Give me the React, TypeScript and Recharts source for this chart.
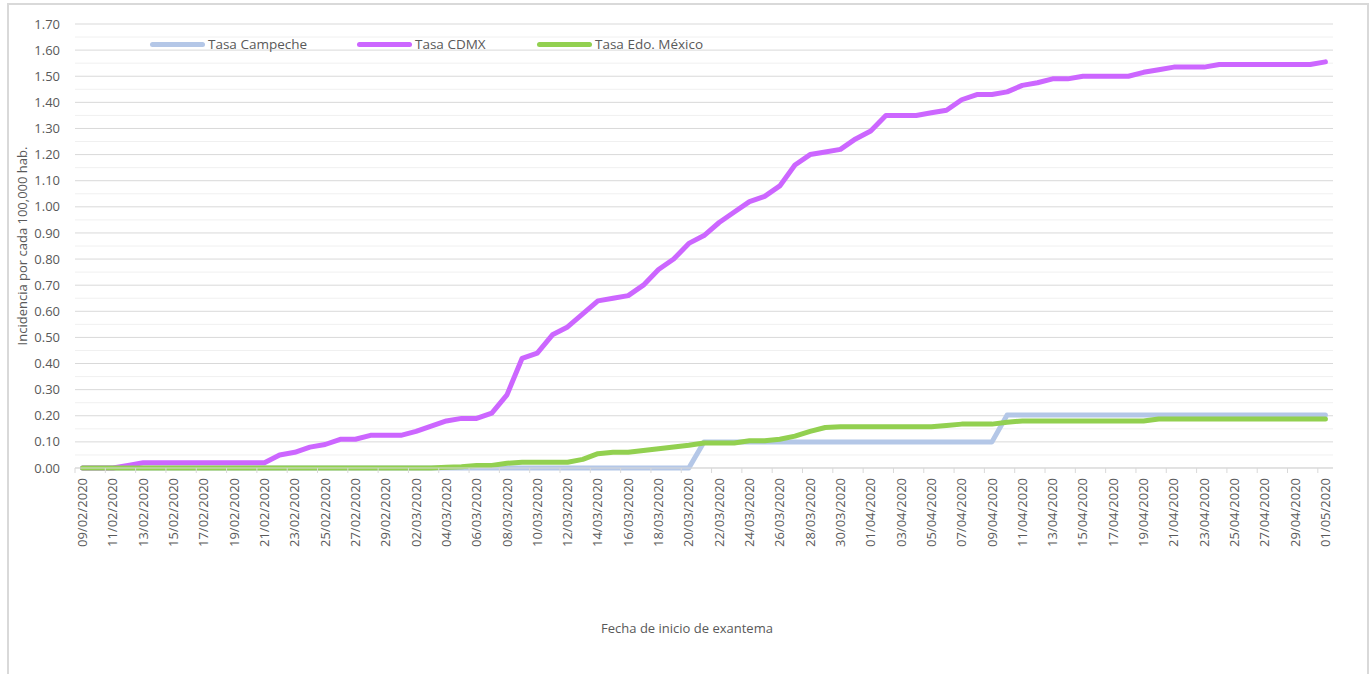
import React from "react";
import {
  CartesianGrid,
  Legend,
  Line,
  LineChart,
  ReferenceLine,
  XAxis,
  YAxis,
} from "recharts";

// daily dates, 09/02/2020 .. 01/05/2020
const dates = [
  "09/02/2020", "10/02/2020", "11/02/2020", "12/02/2020", "13/02/2020", "14/02/2020",
  "15/02/2020", "16/02/2020", "17/02/2020", "18/02/2020", "19/02/2020", "20/02/2020",
  "21/02/2020", "22/02/2020", "23/02/2020", "24/02/2020", "25/02/2020", "26/02/2020",
  "27/02/2020", "28/02/2020", "29/02/2020", "01/03/2020", "02/03/2020", "03/03/2020",
  "04/03/2020", "05/03/2020", "06/03/2020", "07/03/2020", "08/03/2020", "09/03/2020",
  "10/03/2020", "11/03/2020", "12/03/2020", "13/03/2020", "14/03/2020", "15/03/2020",
  "16/03/2020", "17/03/2020", "18/03/2020", "19/03/2020", "20/03/2020", "21/03/2020",
  "22/03/2020", "23/03/2020", "24/03/2020", "25/03/2020", "26/03/2020", "27/03/2020",
  "28/03/2020", "29/03/2020", "30/03/2020", "31/03/2020", "01/04/2020", "02/04/2020",
  "03/04/2020", "04/04/2020", "05/04/2020", "06/04/2020", "07/04/2020", "08/04/2020",
  "09/04/2020", "10/04/2020", "11/04/2020", "12/04/2020", "13/04/2020", "14/04/2020",
  "15/04/2020", "16/04/2020", "17/04/2020", "18/04/2020", "19/04/2020", "20/04/2020",
  "21/04/2020", "22/04/2020", "23/04/2020", "24/04/2020", "25/04/2020", "26/04/2020",
  "27/04/2020", "28/04/2020", "29/04/2020", "30/04/2020", "01/05/2020",
];

const campeche = [
  0, 0, 0, 0, 0, 0, 0, 0, 0, 0, 0, 0, 0, 0, 0, 0, 0, 0, 0, 0, 0,
  0, 0, 0, 0, 0, 0, 0, 0, 0, 0, 0, 0, 0, 0, 0, 0, 0, 0, 0, 0,
  0.1, 0.1, 0.1, 0.1, 0.1, 0.1, 0.1, 0.1, 0.1, 0.1, 0.1,
  0.1, 0.1, 0.1, 0.1, 0.1, 0.1, 0.1, 0.1, 0.1,
  0.203, 0.203, 0.203, 0.203, 0.203, 0.203, 0.203, 0.203, 0.203, 0.203, 0.203,
  0.203, 0.203, 0.203, 0.203, 0.203, 0.203, 0.203, 0.203, 0.203, 0.203, 0.203,
];

const cdmx = [
  0, 0, 0, 0.01, 0.02, 0.02, 0.02, 0.02, 0.02, 0.02, 0.02, 0.02, 0.02,
  0.05, 0.06, 0.08, 0.09, 0.11, 0.11, 0.125, 0.125, 0.125, 0.14,
  0.16, 0.18, 0.19, 0.19, 0.21, 0.28, 0.42, 0.44, 0.51, 0.54, 0.59,
  0.64, 0.65, 0.66, 0.7, 0.76, 0.8, 0.86, 0.89, 0.94, 0.98, 1.02,
  1.04, 1.08, 1.16, 1.2, 1.21, 1.22, 1.26, 1.29, 1.35, 1.35, 1.35,
  1.36, 1.37, 1.41, 1.43, 1.43, 1.44, 1.465, 1.475, 1.49, 1.49, 1.5,
  1.5, 1.5, 1.5, 1.515, 1.525, 1.535, 1.535, 1.535, 1.545, 1.545, 1.545,
  1.545, 1.545, 1.545, 1.545, 1.555,
];

const edoMexico = [
  0, 0, 0, 0, 0, 0, 0, 0, 0, 0, 0, 0, 0, 0, 0, 0, 0, 0, 0, 0, 0, 0, 0, 0,
  0.003, 0.005, 0.01, 0.01, 0.018, 0.022, 0.022, 0.022, 0.022, 0.033,
  0.055, 0.06, 0.06, 0.067, 0.074, 0.08, 0.087, 0.096, 0.096, 0.096,
  0.104, 0.104, 0.11, 0.122, 0.14, 0.155, 0.158, 0.158, 0.158, 0.158,
  0.158, 0.158, 0.158, 0.163, 0.168, 0.168, 0.168, 0.175, 0.18, 0.18,
  0.18, 0.18, 0.18, 0.18, 0.18, 0.18, 0.18, 0.188, 0.188, 0.188, 0.188,
  0.188, 0.188, 0.188, 0.188, 0.188, 0.188, 0.188, 0.188,
];

const yTicks = [
  0, 0.1, 0.2, 0.3, 0.4, 0.5, 0.6, 0.7, 0.8, 0.9,
  1.0, 1.1, 1.2, 1.3, 1.4, 1.5, 1.6, 1.7,
];
const yMinor = [
  0.05, 0.15, 0.25, 0.35, 0.45, 0.55, 0.65, 0.75, 0.85,
  0.95, 1.05, 1.15, 1.25, 1.35, 1.45, 1.55, 1.65,
];

const series = [
  { key: "campeche", name: "Tasa Campeche", color: "#b4c7e7", slot: 207 },
  { key: "cdmx", name: "Tasa CDMX", color: "#cc66ff", slot: 180 },
  { key: "edomex", name: "Tasa Edo. México", color: "#92d050", slot: 180 },
];

const data = dates.map((d, i) => ({
  date: d,
  campeche: campeche[i],
  cdmx: cdmx[i],
  edomex: edoMexico[i],
}));

const FONT = "'Open Sans', sans-serif";
const TEXT = "#595959";
const HALF_BAND = 7.58;

function DateTick(props: any) {
  const { x, y, payload } = props;
  return (
    <g>
      <line x1={x - HALF_BAND} y1={468} x2={x - HALF_BAND} y2={473} stroke="#d9d9d9" />
      <text
        x={0}
        y={0}
        transform={`translate(${x},${y}) rotate(-90)`}
        textAnchor="end"
        dy="0.35em"
        fill={TEXT}
        fontSize={13}
        fontFamily={FONT}
      >
        {payload.value}
      </text>
    </g>
  );
}

function LegendBox() {
  return (
    <div style={{ display: "flex", fontFamily: FONT, fontSize: 13.5, color: TEXT }}>
      {series.map((s) => (
        <div key={s.key} style={{ display: "flex", alignItems: "center", width: s.slot, flex: "none" }}>
          <span
            style={{
              display: "inline-block",
              width: 55,
              height: 5,
              borderRadius: 3,
              background: s.color,
              marginRight: 3,
            }}
          />
          <span style={{ whiteSpace: "nowrap" }}>{s.name}</span>
        </div>
      ))}
    </div>
  );
}

export default function App() {
  return (
    <div style={{ position: "absolute", left: 0, top: 0, width: 1370, height: 674, background: "#fff", overflow: "hidden" }}>
      <div
        style={{
          position: "absolute",
          left: 7,
          top: 3,
          width: 1358,
          height: 700,
          border: "2px solid #d9d9d9",
        }}
      />
      <div style={{ position: "absolute", left: 0, top: 0 }}>
        <LineChart
          width={1370}
          height={674}
          data={data}
          margin={{ top: 24, right: 37, bottom: 106, left: 15 }}
        >
          <CartesianGrid vertical={false} stroke="#d9d9d9" />
          {yMinor.map((v) => (
            <ReferenceLine key={v} y={v} stroke="#f0f0f0" strokeWidth={1} />
          ))}
          <XAxis
            dataKey="date"
            interval={1}
            height={100}
            padding={{ left: HALF_BAND, right: HALF_BAND }}
            axisLine={{ stroke: "#d9d9d9" }}
            tickLine={false}
            tickSize={0}
            tickMargin={10}
            tick={<DateTick />}
          />
          <YAxis
            width={60}
            domain={[0, 1.7]}
            ticks={yTicks}
            axisLine={false}
            tickLine={false}
            tickSize={0}
            tickMargin={15}
            tickFormatter={(v: number) => v.toFixed(2)}
            tick={{ fill: TEXT, fontSize: 13, fontFamily: FONT }}
          />
          <Legend
            layout="horizontal"
            verticalAlign="middle"
            align="center"
            content={() => <LegendBox />}
            wrapperStyle={{ top: 35, left: 150, width: 700 }}
          />
          {series.map((s) => (
            <Line
              key={s.key}
              dataKey={s.key}
              name={s.name}
              stroke={s.color}
              strokeWidth={5}
              strokeLinecap="round"
              strokeLinejoin="round"
              dot={false}
              activeDot={false}
              type="linear"
              isAnimationActive={false}
            />
          ))}
        </LineChart>
      </div>
      <div
        style={{
          position: "absolute",
          left: 22,
          top: 246,
          transform: "translate(-50%, -50%) rotate(-90deg)",
          whiteSpace: "nowrap",
          fontFamily: FONT,
          fontSize: 13,
          color: TEXT,
        }}
      >
        Incidencia por cada 100,000 hab.
      </div>
      <div
        style={{
          position: "absolute",
          left: 687,
          top: 628,
          transform: "translate(-50%, -50%)",
          whiteSpace: "nowrap",
          fontFamily: FONT,
          fontSize: 13,
          color: TEXT,
        }}
      >
        Fecha de inicio de exantema
      </div>
    </div>
  );
}
